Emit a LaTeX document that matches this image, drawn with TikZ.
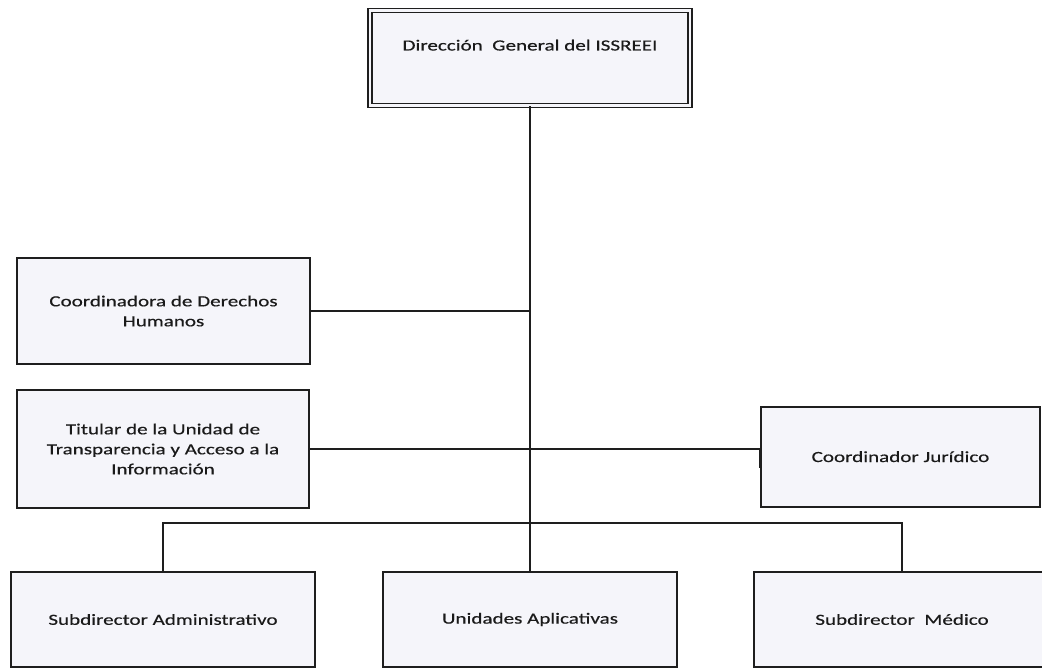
\documentclass[tikz,border=0pt]{standalone}
\usepackage{fontspec}
\setmainfont{Carlito}[FakeStretch=1.36,FakeBold=0.4]
\definecolor{boxfill}{HTML}{F5F5FA}
\definecolor{ink}{HTML}{1E1E1E}
\definecolor{txt}{HTML}{1A1A1A}
\begin{document}
\begin{tikzpicture}[x=1pt,y=-1pt,
  orgbox/.style={draw=ink, line width=1.5pt, fill=boxfill, rectangle, inner sep=0pt,
     align=center, text=txt, font=\fontsize{15.5}{20}\selectfont},
  topbox/.style={orgbox, double=boxfill, double distance=2.6pt, line width=1.3pt},
  link/.style={draw=ink, line width=1.8pt}
]
\clip (0,0) rectangle (1042,668);
\fill[white] (0,0) rectangle (1042,668);

\node[topbox, minimum width=320pt, minimum height=95pt, text height=40pt, text depth=55pt] (dg) at (530,58) {Dirección\ \ General del ISSREEI};

\node[orgbox, minimum width=293pt, minimum height=106pt] (cdh) at (163.5,311) {Coordinadora de Derechos\\Humanos};
\node[orgbox, minimum width=292pt, minimum height=118pt] (tut) at (163,449) {Titular de la Unidad de\\Transparencia y Acceso a la\\Información};
\node[orgbox, minimum width=279pt, minimum height=100pt, text height=55pt, text depth=45pt] (cj) at (900.5,457) {Coordinador Jurídico};

\node[orgbox, minimum width=304pt, minimum height=95pt] (sa) at (163,619.5) {Subdirector Administrativo};
\node[orgbox, minimum width=294pt, minimum height=95pt] (ua) at (530,619.5) {Unidades Aplicativas};
\node[orgbox, minimum width=296pt, minimum height=95pt] (sm) at (902,619.5) {Subdirector\ \ Médico};

\coordinate (bus) at (530,523);

\draw[link] (dg.south) -- (ua.north);
\draw[link] (cdh.east) -- (cdh.east -| dg.south);
\draw[link] (tut.east) -- (tut.east -| cj.west) -- ++(0,19);
\draw[link] (sa.north) |- (bus) -| (sm.north);
\end{tikzpicture}
\end{document}
